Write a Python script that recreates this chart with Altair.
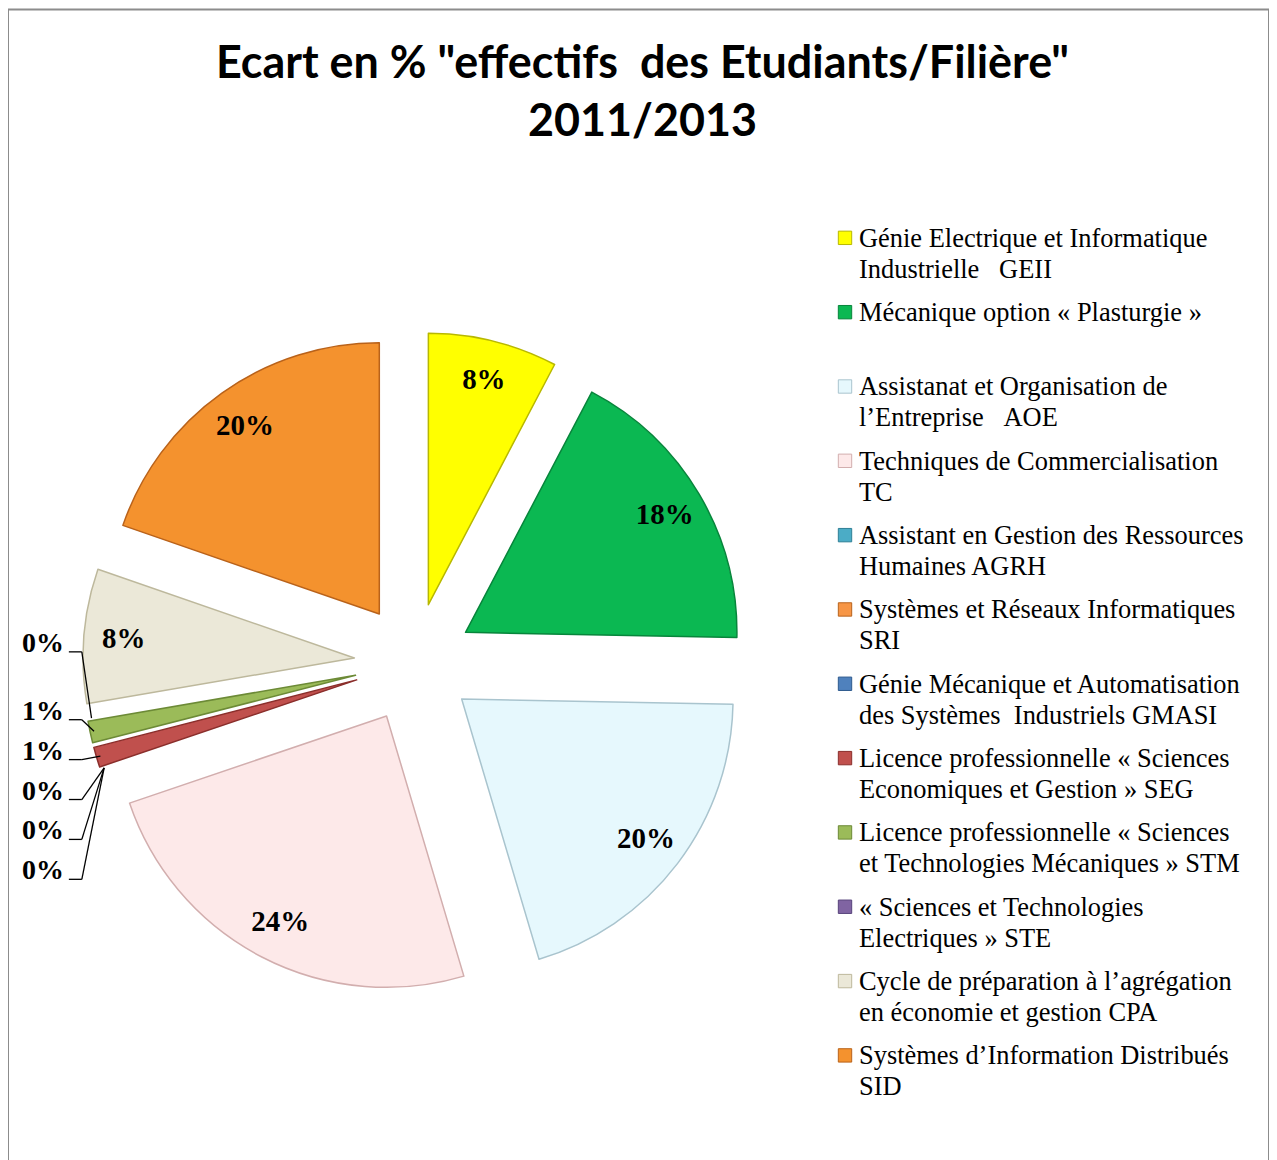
import math
import altair as alt
import pandas as pd

NB = "\u00a0"

# ---- data ----
categories = [
    "GEII", "Plasturgie", "AOE", "TC", "AGRH", "SRI", "GMASI",
    "SEG", "STM", "STE", "CPA", "SID",
]
legend_labels = [
    "Génie Electrique et Informatique\nIndustrielle" + NB * 3 + "GEII",
    "Mécanique option « Plasturgie »",
    "Assistanat et Organisation de\nl’Entreprise" + NB * 3 + "AOE",
    "Techniques de Commercialisation\nTC",
    "Assistant en Gestion des Ressources\nHumaines AGRH",
    "Systèmes et Réseaux Informatiques\nSRI",
    "Génie Mécanique et Automatisation\ndes Systèmes" + NB * 2 + "Industriels GMASI",
    "Licence professionnelle « Sciences\nEconomiques et Gestion » SEG",
    "Licence professionnelle « Sciences\net Technologies Mécaniques » STM",
    "« Sciences et Technologies\nElectriques » STE",
    "Cycle de préparation à l’agrégation\nen économie et gestion CPA",
    "Systèmes d’Information Distribués\nSID",
]
values = [7.7, 17.6, 20.1, 24.4, 0.0, 0.0, 0.0, 1.2, 1.3, 0.0, 8.0, 19.7]

# ---- style ----
fill_colors = [
    "#FFFF00", "#0BB852", "#E6F8FD", "#FDE9E9", "#4BACC6", "#F79646",
    "#4F81BD", "#C0504D", "#9BBB59", "#8064A2", "#EBE8D8", "#F4922E",
]
edge_colors = [
    "#B8B800", "#07853B", "#A9C4CE", "#D2AEAE", "#2E7F96", "#B8621C",
    "#2E5A8E", "#8A2E2B", "#6C8A36", "#56427A", "#BDB89C", "#B9621A",
]

TITLE = "Ecart en % \"effectifs" + NB + " des Etudiants/Filière\"\n2011/2013"
CX, CY = 407, 655      # pie centre (view px)
EXPLODE = 60           # explosion distance
R = 272                # pie radius
LBL_R = 232            # inside label distance from slice apex

df = pd.DataFrame({
    "idx": list(range(len(categories))),
    "cat": categories,
    "label": legend_labels,
    "v": values,
})
total = float(sum(values))

base = (
    alt.Chart(df)
    .transform_window(cum="sum(v)", sort=[alt.SortField("idx")], frame=[None, 0])
    .transform_calculate(start="datum.cum - datum.v")
    .transform_calculate(mid=f"2*PI*(datum.cum - datum.v/2)/{total}")
    .transform_calculate(
        cx=f"{CX} + {EXPLODE}*sin(datum.mid)",
        cy=f"{CY} - {EXPLODE}*cos(datum.mid)",
    )
)

color = alt.Color("cat:N", scale=alt.Scale(domain=categories, range=fill_colors), legend=None)
stroke = alt.Stroke("cat:N", scale=alt.Scale(domain=categories, range=edge_colors), legend=None)

arcs = (
    base.transform_filter("datum.v > 0")
    .mark_arc(outerRadius=R, strokeWidth=1.5, strokeJoin="round")
    .encode(
        theta=alt.Theta("start:Q", scale=alt.Scale(domain=[0, total], range=[0, 2 * math.pi])),
        theta2="cum:Q",
        x=alt.X("cx:Q", scale=None),
        y=alt.Y("cy:Q", scale=None),
        color=color,
        stroke=stroke,
    )
)

inside = (
    base.transform_filter("datum.v >= 2")
    .transform_calculate(
        lx=f"datum.cx + {LBL_R}*sin(datum.mid)",
        ly=f"datum.cy - {LBL_R}*cos(datum.mid)",
        txt="format(datum.v/100, '.0%')",
    )
    .mark_text(font="Liberation Serif", fontSize=29, fontWeight="bold", color="black",
               align="center", baseline="middle")
    .encode(x=alt.X("lx:Q", scale=None), y=alt.Y("ly:Q", scale=None), text="txt:N")
)

small = (
    base.transform_filter("datum.v < 2")
    .transform_window(rank="row_number()", sort=[alt.SortField("idx")])
    .transform_calculate(
        yb="872 - 40*(datum.rank - 1) - (datum.rank > 5 ? 28 : 0)",
        tx=f"datum.cx + {R - 4}*sin(datum.mid)",
        ty=f"datum.cy - {R - 4}*cos(datum.mid)",
        txt="format(datum.v/100, '.0%')",
        hx0="61",
        hx1="74",
    )
)
out_text = small.mark_text(
    font="Liberation Serif", fontSize=28, fontWeight="bold", color="black",
    align="right", baseline="alphabetic",
).encode(x=alt.value(56), y=alt.Y("yb:Q", scale=None), text="txt:N")
lead_h = small.mark_rule(color="black", strokeWidth=1.3).encode(
    x=alt.X("hx0:Q", scale=None), x2="hx1:Q", y=alt.Y("yb:Q", scale=None), y2="yb:Q"
)
lead_d = small.mark_rule(color="black", strokeWidth=1.3).encode(
    x=alt.X("hx1:Q", scale=None), x2="tx:Q", y=alt.Y("yb:Q", scale=None), y2="ty:Q"
)

leg = alt.Chart(df).transform_calculate(
    sy="229 + 74.5*datum.idx",
    ty="238 + 74.5*datum.idx",
)
leg_sym = leg.mark_square(size=180, strokeWidth=1, opacity=1).encode(
    x=alt.value(839), y=alt.Y("sy:Q", scale=None), color=color, stroke=stroke
)
leg_txt = leg.mark_text(
    font="Liberation Serif", fontSize=26.5, align="left", baseline="alphabetic",
    lineBreak="\n", lineHeight=31, color="black",
).encode(x=alt.value(853), y=alt.Y("ty:Q", scale=None), text="label:N")

title = alt.Chart(pd.DataFrame({"t": [TITLE]})).mark_text(
    font="Lato", fontSize=45, fontWeight="bold", align="center", baseline="alphabetic",
    lineBreak="\n", lineHeight=58, color="black",
).encode(x=alt.value(636), y=alt.value(69), text="t:N")

chart = (
    alt.layer(arcs, inside, lead_h, lead_d, out_text, leg_sym, leg_txt, title)
    .properties(width=1264, height=1170, padding=0, autosize="none")
    .configure_view(stroke="#8c8c8c", strokeWidth=2)
)

chart.save("out.html", embed_options={"renderer": "svg", "actions": False})
